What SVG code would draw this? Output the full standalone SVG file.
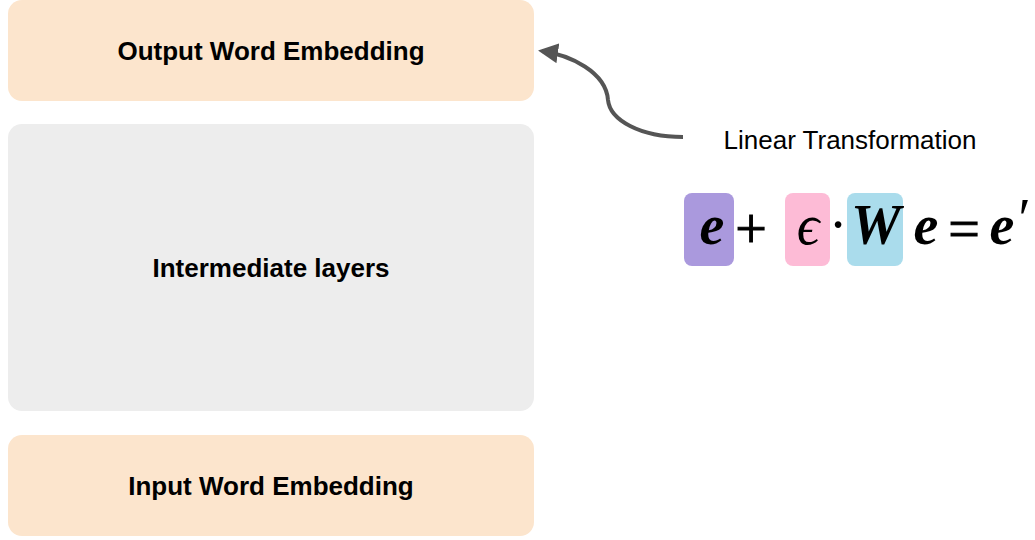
<svg xmlns="http://www.w3.org/2000/svg" width="1035" height="540" viewBox="0 0 1035 540">
<defs>
<style>
.lbl{font-family:"Liberation Sans",Arial,sans-serif;font-weight:bold;font-size:26px;fill:#000;text-anchor:middle}
.m{font-family:"Liberation Serif","Times New Roman",serif;font-size:56px;fill:#000;text-anchor:middle}
.bi{font-weight:bold;font-style:italic}
.op{stroke:#000;stroke-width:1}
</style>
<marker id="ah" viewBox="0 0 10 10" refX="8" refY="5" markerWidth="5" markerHeight="5" orient="auto-start-reverse" markerUnits="strokeWidth">
<path d="M0,0 L10,5 L0,10 z" fill="#555"/>
</marker>
</defs>
<rect width="1035" height="540" fill="#fff"/>
<g id="output">
<rect x="8" y="0" width="526" height="101" rx="14" fill="#fce5cd"/>
<text class="lbl" x="271" y="60">Output Word Embedding</text>
</g>
<g id="intermediate">
<rect x="8" y="124" width="526" height="287" rx="14" fill="#ededed"/>
<text class="lbl" x="271" y="277">Intermediate layers</text>
</g>
<g id="input">
<rect x="8" y="435" width="526" height="101" rx="14" fill="#fce5cd"/>
<text class="lbl" x="271" y="495">Input Word Embedding</text>
</g>
<g id="connectors">
<path d="M683,137 C640,137 610,120 608,100 C606,72 570,55 542,51" fill="none" stroke="#555" stroke-width="4" marker-end="url(#ah)"/>
</g>
<g id="linear">
<text x="850" y="149" font-family="'Liberation Sans',Arial,sans-serif" font-size="26" text-anchor="middle" fill="#000">Linear Transformation</text>
</g>
<g id="formula">
<rect x="684" y="193" width="50" height="73" rx="8" fill="#aa99dd"/>
<rect x="785" y="193" width="45" height="73" rx="8" fill="#fdbbd6"/>
<rect x="847" y="193" width="56" height="73" rx="8" fill="#aadcec"/>
<text class="m bi" x="712" y="244">e</text>
<text class="m op" x="751" y="248">+</text>
<text class="m" font-style="italic" x="808" y="244">ϵ</text>
<text class="m" x="838" y="244">·</text>
<text class="m bi" x="876" y="244">W</text>
<text class="m bi" x="926" y="244">e</text>
<text class="m op" x="964" y="248">=</text>
<text class="m bi" x="1002" y="244">e</text>
<text class="m" font-style="italic" x="1021" y="238">′</text>
</g>
</svg>
